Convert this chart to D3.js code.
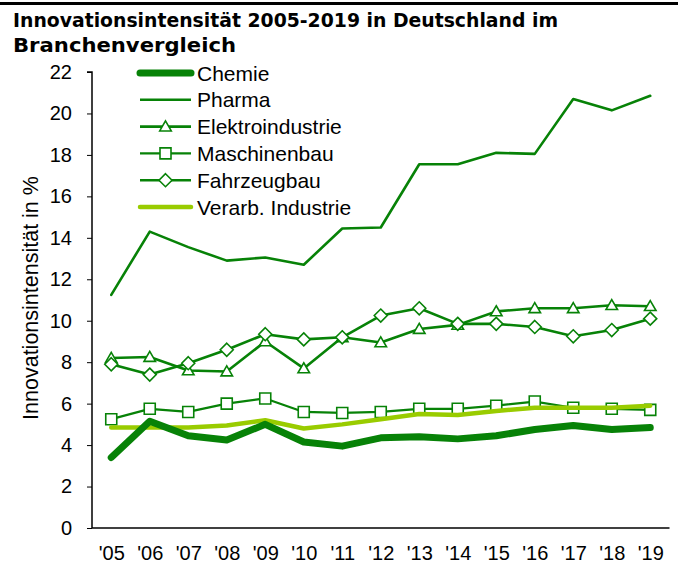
<!DOCTYPE html>
<html><head><meta charset="utf-8">
<script src="https://cdn.jsdelivr.net/npm/d3@7"></script>
<style>body{margin:0;background:#fff}svg{display:block}</style>
</head><body>
<svg id="c" width="678" height="567"></svg>
<script>
const years = ["'05","'06","'07","'08","'09","'10","'11","'12","'13","'14","'15","'16","'17","'18","'19"];
const yTicks = [0,2,4,6,8,10,12,14,16,18,20,22];
const chemie = [3.4,5.15,4.45,4.25,5.0,4.15,3.95,4.35,4.4,4.3,4.45,4.75,4.95,4.75,4.85];
const pharma = [11.25,14.3,13.55,12.9,13.05,12.7,14.45,14.5,17.55,17.55,18.1,18.05,20.7,20.15,20.85];
const elektro = [8.2,8.25,7.6,7.55,9.0,7.7,9.2,8.95,9.6,9.8,10.45,10.6,10.6,10.75,10.7];
const maschinenbau = [5.25,5.75,5.6,6.0,6.25,5.6,5.55,5.6,5.75,5.75,5.9,6.1,5.8,5.75,5.7];
const fahrzeugbau = [7.9,7.4,7.95,8.6,9.35,9.1,9.2,10.25,10.6,9.85,9.85,9.7,9.25,9.55,10.1];
const verarb = [4.85,4.85,4.85,4.95,5.2,4.8,5.0,5.25,5.5,5.45,5.65,5.8,5.8,5.8,5.9];
const seriesNames = ["Chemie","Pharma","Elektroindustrie","Maschinenbau","Fahrzeugbau","Verarb. Industrie"];
const titleLines = ["Innovationsintensität 2005-2019 in Deutschland im","Branchenvergleich"];
const yTitle = "Innovationsintensität in %";

const DG = "#078207", LG = "#99cc00";
const series = [
  {name:seriesNames[0], values:chemie, color:DG, width:7, marker:null},
  {name:seriesNames[1], values:pharma, color:DG, width:2.6, marker:null},
  {name:seriesNames[2], values:elektro, color:DG, width:2.6, marker:"triangle"},
  {name:seriesNames[3], values:maschinenbau, color:DG, width:2.2, marker:"square"},
  {name:seriesNames[4], values:fahrzeugbau, color:DG, width:2.6, marker:"diamond"},
  {name:seriesNames[5], values:verarb, color:LG, width:4.5, marker:null}
];

const svg = d3.select("#c");
const L=92, R=669.5, T=72, B=528;
const x = d3.scalePoint().domain(years).range([L,R]).padding(0.5);
const y = d3.scaleLinear().domain([0,22]).range([B,T]);

// top rule
svg.append("line").attr("x1",0).attr("x2",678).attr("y1",3.5).attr("y2",3.5).attr("stroke","#000").attr("stroke-width",3);

// title
const titleWidths = [545, 223];
titleLines.forEach((t,i)=>{
  svg.append("text").attr("x",13).attr("y",27+i*25)
    .attr("font-family","DejaVu Sans").attr("font-weight","bold").attr("font-size",20)
    .attr("textLength",titleWidths[i]).attr("lengthAdjust","spacingAndGlyphs")
    .attr("fill","#000").text(t);
});

// axes
const yAxis = d3.axisLeft(y).tickValues(yTicks).tickSize(5).tickPadding(15).tickFormat(d3.format("d"));
const gy = svg.append("g").attr("transform",`translate(${L},0)`).call(yAxis);
gy.select(".domain").attr("stroke","#000").attr("stroke-width",1.5).attr("d",`M-5,${T}H0V${B}`);
gy.selectAll(".tick line").attr("stroke","#000").attr("stroke-width",1);
gy.selectAll(".tick text").attr("font-family","Liberation Sans, Arial").attr("font-size",20).attr("fill","#000");

const xAxis = d3.axisBottom(x).tickSize(0).tickPadding(18);
const gx = svg.append("g").attr("transform",`translate(0,${B})`).call(xAxis);
gx.select(".domain").attr("stroke","#000").attr("stroke-width",1.5).attr("d",`M${L},0H${R}`);
gx.selectAll(".tick text").attr("font-family","Liberation Sans, Arial").attr("font-size",20).attr("fill","#000");

svg.append("text").attr("transform","translate(38,298) rotate(-90)").attr("text-anchor","middle")
  .attr("font-family","Liberation Sans, Arial").attr("font-size",21.5).attr("fill","#000").text(yTitle);

// markers
function markerPath(type){
  if(type==="triangle") return d3.symbol(d3.symbolTriangle2,95)();
  if(type==="square") return "M-5.5,-5.5H5.5V5.5H-5.5Z";
  if(type==="diamond") return "M0,-6.5L6.5,0L0,6.5L-6.5,0Z";
  return null;
}

const line = d3.line().x((d,i)=>x(years[i])).y(d=>y(d));
const drawOrder = [1,2,4,3,5,0];
drawOrder.forEach(k=>{
  const s = series[k];
  svg.append("path").attr("d",line(s.values)).attr("fill","none").attr("stroke",s.color)
    .attr("stroke-width",s.width).attr("stroke-linejoin","round").attr("stroke-linecap","round");
  if(s.marker){
    svg.selectAll(null).data(s.values).enter().append("path")
      .attr("d",markerPath(s.marker))
      .attr("transform",(d,i)=>`translate(${x(years[i])},${y(d)+(s.marker==="triangle"?1:0)})`)
      .attr("fill","#fff").attr("stroke",s.color).attr("stroke-width",1.6);
  }
});

// legend
const lg = svg.append("g");
series.forEach((s,i)=>{
  const cy = 73 + i*26.8;
  lg.append("line").attr("x1",140).attr("x2",191).attr("y1",cy).attr("y2",cy)
    .attr("stroke",s.color).attr("stroke-width",s.width).attr("stroke-linecap",s.width>4?"round":"butt");
  if(s.marker){
    lg.append("path").attr("d",markerPath(s.marker)).attr("transform",`translate(165.5,${cy+(s.marker==="triangle"?1:0)})`)
      .attr("fill","#fff").attr("stroke",s.color).attr("stroke-width",1.6);
  }
  lg.append("text").attr("x",197).attr("y",cy+7.5).attr("font-family","Liberation Sans, Arial")
    .attr("font-size",21).attr("fill","#000").text(s.name);
});
</script>
</body></html>
